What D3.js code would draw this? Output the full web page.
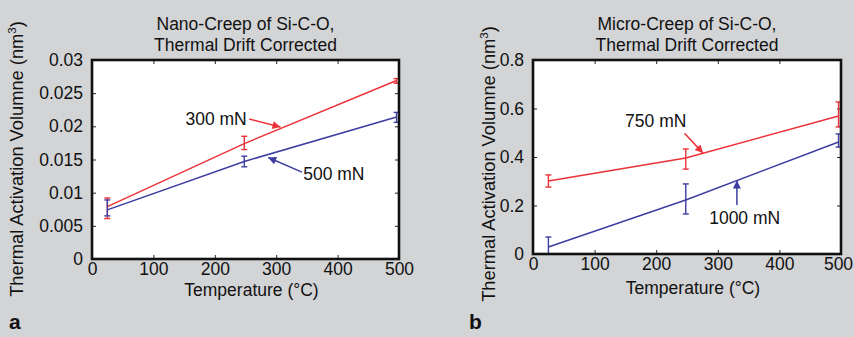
<!DOCTYPE html>
<html>
<head>
<meta charset="utf-8">
<script src="https://cdn.jsdelivr.net/npm/d3@7"></script>
<style>
  html, body { margin: 0; padding: 0; background: #d3d4d6; }
  svg { display: block; }
  text { font-family: "Liberation Sans", Arial, Helvetica, sans-serif; fill: #111; }
</style>
</head>
<body>
<svg id="chart" width="854" height="337"></svg>
<script>
// ---------- data ----------
const temperatures = [25, 248, 496];
const xTicks = [0, 100, 200, 300, 400, 500];

// Panel a: Nano-Creep
const nanoYTicks = [0, 0.005, 0.01, 0.015, 0.02, 0.025, 0.03];
const nanoYTickLabels = ["0", "0.005", "0.01", "0.015", "0.02", "0.025", "0.03"];
const nano300 = [0.0079, 0.0174, 0.0269];
const nano300Low = [0.0061, 0.0165, 0.0265];
const nano300High = [0.0092, 0.0185, 0.0272];
const nano500 = [0.0074, 0.0147, 0.0214];
const nano500Low = [0.0065, 0.0139, 0.0206];
const nano500High = [0.0089, 0.0155, 0.0221];

// Panel b: Micro-Creep
const microYTicks = [0, 0.2, 0.4, 0.6, 0.8];
const microYTickLabels = ["0", "0.2", "0.4", "0.6", "0.8"];
const micro750 = [0.301, 0.396, 0.569];
const micro750Low = [0.276, 0.350, 0.524];
const micro750High = [0.326, 0.433, 0.627];
const micro1000 = [0.029, 0.223, 0.462];
const micro1000Low = [0.0, 0.165, 0.441];
const micro1000High = [0.070, 0.289, 0.495];

const titlesA = ["Nano-Creep of Si-C-O,", "Thermal Drift Corrected"];
const titlesB = ["Micro-Creep of Si-C-O,", "Thermal Drift Corrected"];
const xLabel = "Temperature (°C)";
const yLabel = "Thermal Activation Volumne (nm";

const RED = "#ec3238";
const BLUE = "#3d3da2";
const FS = 17.5;

const svg = d3.select("#chart");
const defs = svg.append("defs");
[["headRed", RED], ["headBlue", BLUE]].forEach(([id, c]) => {
  defs.append("marker").attr("id", id)
    .attr("viewBox", "0 0 10 10").attr("refX", 10).attr("refY", 5)
    .attr("markerWidth", 9).attr("markerHeight", 8).attr("markerUnits", "userSpaceOnUse")
    .attr("orient", "auto")
    .append("path").attr("d", "M0,0 L10,5 L0,10 z").attr("fill", c);
});

function drawPanel(cfg) {
  const x = d3.scaleLinear().domain([0, 500]).range([cfg.left, cfg.right]);
  const y = d3.scaleLinear().domain([0, cfg.yMax]).range([cfg.bottom, cfg.top]);
  const g = svg.append("g");

  // plot background
  g.append("rect").attr("x", cfg.left).attr("y", cfg.top)
    .attr("width", cfg.right - cfg.left).attr("height", cfg.bottom - cfg.top)
    .attr("fill", "#fff");

  // axes with inward ticks (all four sides)
  const tl = 4;
  const axB = d3.axisBottom(x).tickValues(xTicks).tickSizeInner(-tl).tickSizeOuter(0).tickFormat(d3.format("d")).tickPadding(4);
  const axT = d3.axisTop(x).tickValues(xTicks).tickSizeInner(-tl).tickSizeOuter(0).tickFormat("");
  const axL = d3.axisLeft(y).tickValues(cfg.yTicks).tickSizeInner(-tl).tickSizeOuter(0)
      .tickFormat((d, i) => cfg.yTickLabels[i]).tickPadding(9);
  const axR = d3.axisRight(y).tickValues(cfg.yTicks).tickSizeInner(-tl).tickSizeOuter(0).tickFormat("");

  const styleAxis = sel => {
    sel.select(".domain").remove();
    sel.selectAll(".tick line").attr("stroke", "#222").attr("stroke-width", 1);
    sel.selectAll(".tick text").attr("font-size", FS).attr("fill", "#111")
      .attr("font-family", '"Liberation Sans", Arial, sans-serif');
  };
  g.append("g").attr("transform", `translate(0,${cfg.bottom})`).call(axB).call(styleAxis)
    .selectAll(".tick text").attr("dy", "0.71em")
    .attr("dx", (d, i, n) => (i === n.length - 1 ? cfg.lastTickDx : 0));
  g.append("g").attr("transform", `translate(0,${cfg.top})`).call(axT).call(styleAxis);
  g.append("g").attr("transform", `translate(${cfg.left},0)`).call(axL).call(styleAxis);
  g.append("g").attr("transform", `translate(${cfg.right},0)`).call(axR).call(styleAxis);

  // series
  const line = d3.line().x((d, i) => x(temperatures[i])).y(d => y(d));
  cfg.series.forEach(s => {
    g.append("path").datum(s.values).attr("d", line)
      .attr("fill", "none").attr("stroke", s.color).attr("stroke-width", 1.5);
    const eb = g.append("g").attr("stroke", s.color).attr("stroke-width", 1.4);
    temperatures.forEach((t, i) => {
      const cx = x(t), y0 = y(s.low[i]), y1 = y(s.high[i]);
      eb.append("line").attr("x1", cx).attr("x2", cx).attr("y1", y0).attr("y2", y1);
      eb.append("line").attr("x1", cx - 3).attr("x2", cx + 3).attr("y1", y0).attr("y2", y0);
      eb.append("line").attr("x1", cx - 3).attr("x2", cx + 3).attr("y1", y1).attr("y2", y1);
    });
  });

  // annotations
  cfg.notes.forEach(n => {
    g.append("line")
      .attr("x1", x(n.from[0])).attr("y1", y(n.from[1]))
      .attr("x2", x(n.to[0])).attr("y2", y(n.to[1]))
      .attr("stroke", n.color).attr("stroke-width", 1.5)
      .attr("marker-end", `url(#${n.marker})`);
    g.append("text").attr("x", x(n.text[0])).attr("y", y(n.text[1]))
      .attr("text-anchor", n.anchor).attr("font-size", FS).text(n.label);
  });

  // frame
  g.append("rect").attr("x", cfg.left).attr("y", cfg.top)
    .attr("width", cfg.right - cfg.left).attr("height", cfg.bottom - cfg.top)
    .attr("fill", "none").attr("stroke", "#111").attr("stroke-width", 2.6);

  // titles
  const cx = (cfg.left + cfg.right) / 2;
  g.append("text").attr("x", cx).attr("y", 30).attr("text-anchor", "middle")
    .attr("font-size", FS).text(cfg.titles[0]);
  g.append("text").attr("x", cx).attr("y", 51).attr("text-anchor", "middle")
    .attr("font-size", FS).text(cfg.titles[1]);

  // x label
  g.append("text").attr("x", cx + 6).attr("y", cfg.xLabelY).attr("text-anchor", "middle")
    .attr("font-size", FS).text(xLabel);

  // y label
  const yl = g.append("text")
    .attr("transform", `translate(${cfg.yLabelX},${cfg.yLabelCY}) rotate(-90)`)
    .attr("text-anchor", "middle").attr("font-size", 18.3);
  yl.append("tspan").text(yLabel);
  yl.append("tspan").attr("font-size", 11.5).attr("dy", -7).text("3");
  yl.append("tspan").attr("dy", 7).text(")");

  // panel letter
  g.append("text").attr("x", cfg.letterX).attr("y", 329)
    .attr("font-size", 21).attr("font-weight", "bold").text(cfg.letter);
}

drawPanel({
  left: 92, right: 399, top: 60, bottom: 259, yMax: 0.03, lastTickDx: 0,
  yTicks: nanoYTicks, yTickLabels: nanoYTickLabels,
  titles: titlesA, xLabelY: 296, yLabelX: 23, yLabelCY: 159, letter: "a", letterX: 9,
  series: [
    { values: nano300, low: nano300Low, high: nano300High, color: RED },
    { values: nano500, low: nano500Low, high: nano500High, color: BLUE }
  ],
  notes: [
    { label: "300 mN", text: [252, 0.0202], anchor: "end", from: [256, 0.0211], to: [307, 0.0199], color: RED, marker: "headRed" },
    { label: "500 mN", text: [344, 0.0119], anchor: "start", from: [342, 0.0131], to: [287, 0.0153], color: BLUE, marker: "headBlue" }
  ]
});

drawPanel({
  left: 533, right: 841, top: 60, bottom: 254, yMax: 0.8, lastTickDx: -3,
  yTicks: microYTicks, yTickLabels: microYTickLabels,
  titles: titlesB, xLabelY: 294, yLabelX: 495, yLabelCY: 164, letter: "b", letterX: 469,
  series: [
    { values: micro750, low: micro750Low, high: micro750High, color: RED },
    { values: micro1000, low: micro1000Low, high: micro1000High, color: BLUE }
  ],
  notes: [
    { label: "750 mN", text: [249, 0.524], anchor: "end", from: [246, 0.498], to: [276, 0.416], color: RED, marker: "headRed" },
    { label: "1000 mN", text: [286, 0.124], anchor: "start", from: [331, 0.202], to: [331, 0.303], color: BLUE, marker: "headBlue" }
  ]
});
</script>
</body>
</html>
